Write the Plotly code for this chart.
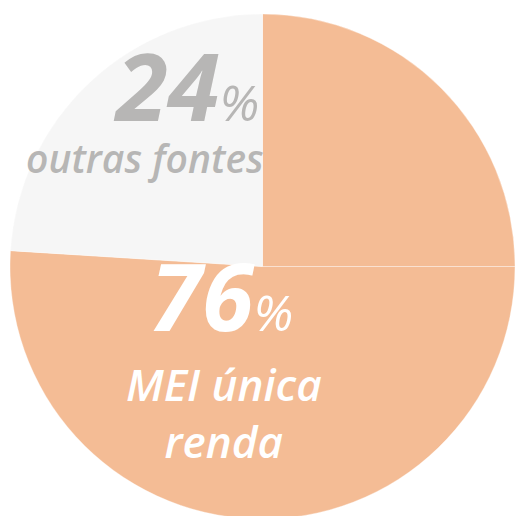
import plotly.graph_objects as go

# Data
labels = ['MEI única renda (parte 1)', 'MEI única renda (parte 2)', 'outras fontes']
values = [25, 51, 24]
colors = ['#F4BC95', '#F4BC95', '#F6F6F6']

share_main = 76
share_other = 24

# body margin is removed below, so page pixels == figure pixels
ML, MT, MR, MB = 10, 14, 0, 0
PW, PH = 505, 505
W, H = ML + PW + MR, MT + PH + MB


def px(x, y):
    # page pixel position -> paper coordinates
    return (x - ML) / PW, 1 - (y - MT) / PH


fig = go.Figure()
fig.add_trace(go.Pie(
    labels=labels,
    values=values,
    sort=False,
    direction='clockwise',
    rotation=0,
    marker=dict(colors=colors, line=dict(color='rgba(255,255,255,0.35)', width=1)),
    textinfo='none',
    hoverinfo='none',
    showlegend=False,
))

FONT = 'Open Sans'
gray = '#B7B6B5'

x, y = px(261, 151)
fig.add_annotation(
    x=x, y=y, xref='paper', yref='paper', xanchor='right', yanchor='bottom',
    text=f"<b><i>{share_other}</i></b><i><span style='font-size:50px'>%</span></i>",
    showarrow=False, font=dict(family=FONT, size=94, color=gray),
)
x, y = px(266, 129)
fig.add_annotation(
    x=x, y=y, xref='paper', yref='paper', xanchor='right', yanchor='top',
    text='<i>outras fontes</i>', showarrow=False,
    font=dict(family=FONT, size=39, color=gray, weight=600),
)
x, y = px(221, 361)
fig.add_annotation(
    x=x, y=y, xref='paper', yref='paper', xanchor='center', yanchor='bottom',
    text=f"<b><i>{share_main}</i></b><i><span style='font-size:50px'>%</span></i>",
    showarrow=False, font=dict(family=FONT, size=94, color='white'),
)
x, y = px(224, 352)
fig.add_annotation(
    x=x, y=y, xref='paper', yref='paper', xanchor='center', yanchor='top',
    text='<i>MEI única<br>renda</i>', showarrow=False,
    font=dict(family=FONT, size=44, color='white', weight=600),
)

fig.update_layout(
    width=W, height=H,
    margin=dict(l=ML, t=MT, r=MR, b=MB),
    paper_bgcolor='white',
    plot_bgcolor='white',
)

# the pie runs past the window edge, like the original: drop the body margin, hide scrollbars
fig.write_html(
    "out.html",
    config={'displayModeBar': False},
    post_script="document.body.style.margin='0';document.body.style.overflow='hidden';",
)
